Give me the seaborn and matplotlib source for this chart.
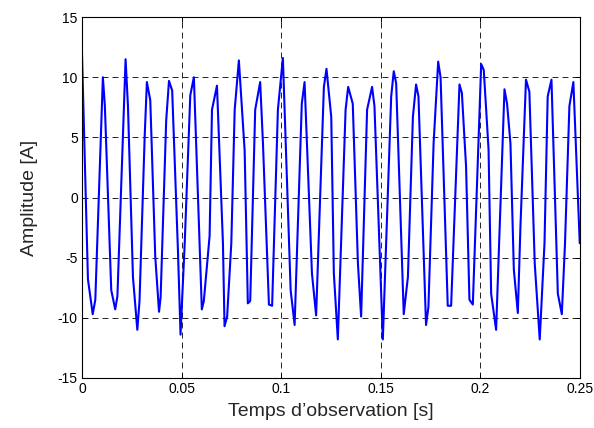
import numpy as np
import pandas as pd
import matplotlib as mpl
mpl.use('Agg')
import matplotlib.pyplot as plt
import seaborn as sns

# values (vertices of the trace)
temps = [0.0, 0.0030, 0.0054, 0.0067, 0.0105, 0.0115, 0.0147, 0.0167, 0.0178, 0.0219,
         0.0231, 0.0256, 0.0278, 0.0289, 0.0315, 0.0326, 0.0343, 0.0368, 0.0387, 0.0395,
         0.0423, 0.0437, 0.0453, 0.0482, 0.0495, 0.0516, 0.0544, 0.0562, 0.0602, 0.0612,
         0.0641, 0.0653, 0.0678, 0.0708, 0.0716, 0.0729, 0.0750, 0.0767, 0.0788, 0.0817,
         0.0833, 0.0845, 0.0870, 0.0895, 0.0909, 0.0939, 0.0955, 0.0984, 0.1009, 0.1048,
         0.1068, 0.1104, 0.1118, 0.1155, 0.1176, 0.1215, 0.1228, 0.1252, 0.1265, 0.1285,
         0.1324, 0.1337, 0.1360, 0.1386, 0.1402, 0.1432, 0.1457, 0.1469, 0.1511, 0.1553,
         0.1566, 0.1578, 0.1616, 0.1637, 0.1662, 0.1678, 0.1690, 0.1728, 0.1740, 0.1766,
         0.1789, 0.1801, 0.1837, 0.1854, 0.1896, 0.1908, 0.1929, 0.1946, 0.1963, 0.2005,
         0.2018, 0.2042, 0.2055, 0.2080, 0.2122, 0.2135, 0.2152, 0.2169, 0.2189, 0.2202,
         0.2230, 0.2247, 0.2274, 0.2299, 0.2323, 0.2339, 0.2358, 0.2390, 0.2410, 0.2426,
         0.2448, 0.2468, 0.2500]
amplitude = [12.0, -6.8, -9.7, -8.5, 10.0, 7.6, -7.7, -9.3, -8.2, 11.5,
             7.6, -6.6, -11.0, -8.6, 5.1, 9.6, 8.1, -4.9, -9.5, -8.3,
             6.4, 9.7, 8.9, -4.4, -11.4, -3.8, 8.5, 10.0, -9.3, -8.6,
             -3.2, 7.3, 9.3, -3.8, -10.7, -9.9, -3.8, 7.3, 11.4, 3.9,
             -8.8, -8.6, 7.3, 9.6, 4.5, -8.9, -9.0, 7.3, 11.6, -7.7,
             -10.6, 7.8, 9.6, -6.3, -9.8, 9.2, 10.7, 6.7, -6.3, -11.8,
             7.3, 9.2, 7.8, -5.5, -9.9, 7.3, 9.2, 7.6, -11.8, 8.4,
             10.5, 9.5, -9.7, -6.6, 6.7, 9.4, 8.4, -10.6, -9.1, 4.5,
             11.3, 10.0, -9.0, -9.0, 9.4, 8.7, 2.6, -8.5, -8.9, 11.1,
             10.6, 4.0, -8.0, -11.0, 9.0, 7.8, 4.5, -6.0, -9.6, -2.5,
             9.8, 8.8, -5.5, -11.8, -3.8, 8.4, 9.8, -8.0, -9.7, -3.8,
             7.6, 9.6, -3.8]

x_ticks = [0, 0.05, 0.1, 0.15, 0.2, 0.25]
x_tick_labels = ['0', '0.05', '0.1', '0.15', '0.2', '0.25']
y_ticks = [-15, -10, -5, 0, 5, 10, 15]

df = pd.DataFrame({'t': temps, 'i': amplitude})

sns.set_style('white')
plt.rcParams['font.family'] = ['Liberation Sans', 'DejaVu Sans']
plt.rcParams['lines.scale_dashes'] = False
plt.rcParams['axes.unicode_minus'] = False

fig = plt.figure(figsize=(5.94, 4.28), dpi=100)
ax = fig.add_axes([0.138, 0.117, 0.838, 0.843])

sns.lineplot(data=df, x='t', y='i', sort=False, estimator=None,
             color='#0000ff', linewidth=1.5, ax=ax)

ax.set_xlim(0, 0.25)
ax.set_ylim(-15, 15)
ax.set_xticks(x_ticks)
ax.set_xticklabels(x_tick_labels)
ax.set_yticks(y_ticks)

# grid like matlab "grid on" with dashed lines
ax.grid(True, color='black', linestyle=(0, (4.3, 2.9)), linewidth=0.6)
ax.set_axisbelow(True)

for s in ax.spines.values():
    s.set_color('black')
    s.set_linewidth(0.8)
    s.set_visible(True)

ax.tick_params(direction='in', length=3.5, width=0.7, top=True, right=True,
               bottom=True, left=True, labelsize=10, colors='black', pad=3)

ax.set_xlabel('Temps d\u2019observation [s]', fontsize=14, labelpad=5)
ax.set_ylabel('Amplitude [A]', fontsize=14, labelpad=14)

fig.savefig('out.png', dpi=100, facecolor='white')
